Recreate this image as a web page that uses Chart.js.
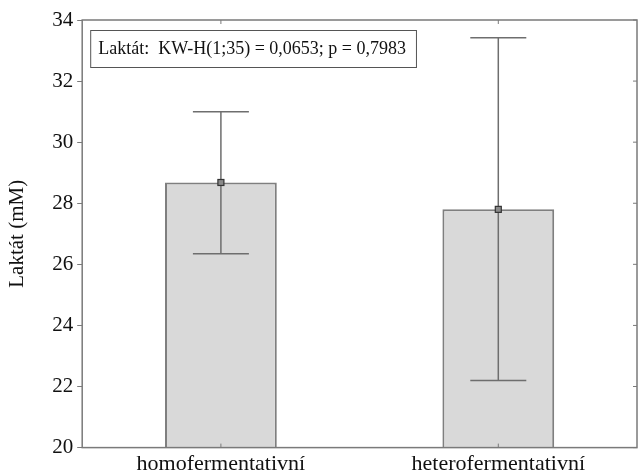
<!DOCTYPE html>
<html><head><meta charset="utf-8">
<script src="https://cdn.jsdelivr.net/npm/chart.js@4"></script>
<style>html,body{margin:0;padding:0;background:#fff}#wrap{width:638px;height:475px}</style>
</head><body><div id="wrap"><canvas id="c"></canvas></div>
<script>
const categories = ["homofermentativní", "heterofermentativní"];
const means = [28.68, 27.8];
const errLow = [26.35, 22.2];
const errHigh = [31.0, 33.42];
const yTicks = [20, 22, 24, 26, 28, 30, 32, 34];
const annotationText = "Laktát:  KW-H(1;35) = 0,0653; p = 0,7983";
const yTitle = "Laktát (mM)";

const SERIF = "'Liberation Serif','DejaVu Serif',serif";

const decor = {
  id: 'decor',
  afterDatasetsDraw(chart) {
    const ctx = chart.ctx, a = chart.chartArea, y = chart.scales.y, x = chart.scales.x;
    ctx.save();
    const meta = chart.getDatasetMeta(0);
    meta.data.forEach((bar, i) => {
      const cx = bar.x;
      const yh = y.getPixelForValue(errHigh[i]);
      const yl = y.getPixelForValue(errLow[i]);
      const ym = y.getPixelForValue(means[i]);
      ctx.strokeStyle = '#6e6e6e';
      ctx.lineWidth = 1.5;
      ctx.beginPath();
      ctx.moveTo(cx, yh); ctx.lineTo(cx, yl);
      ctx.moveTo(cx - 28, yh); ctx.lineTo(cx + 28, yh);
      ctx.moveTo(cx - 28, yl); ctx.lineTo(cx + 28, yl);
      ctx.stroke();
      ctx.fillStyle = '#8a8a8a';
      ctx.fillRect(cx - 3, ym - 3, 6, 6);
      ctx.strokeStyle = '#333';
      ctx.lineWidth = 1.2;
      ctx.strokeRect(cx - 3, ym - 3, 6, 6);
    });
    ctx.strokeStyle = '#7a7a7a';
    ctx.lineWidth = 1.5;
    ctx.strokeRect(a.left, a.top, a.right - a.left, a.bottom - a.top);
    ctx.lineWidth = 1;
    yTicks.forEach(v => {
      const py = y.getPixelForValue(v);
      ctx.beginPath(); ctx.moveTo(a.right, py); ctx.lineTo(a.right - 4, py); ctx.stroke();
    });
    categories.forEach((c, i) => {
      const px = x.getPixelForValue(i);
      ctx.beginPath();
      ctx.moveTo(px, a.top); ctx.lineTo(px, a.top + 4);
      ctx.moveTo(px, a.bottom); ctx.lineTo(px, a.bottom - 4);
      ctx.stroke();
    });
    ctx.font = "18px " + SERIF;
    const tw = ctx.measureText(annotationText).width;
    const bx = a.left + 8, by = a.top + 10, bw = tw + 18, bh = 37;
    ctx.fillStyle = '#fff';
    ctx.fillRect(bx, by, bw, bh);
    ctx.strokeStyle = '#555';
    ctx.lineWidth = 1;
    ctx.strokeRect(bx + 0.5, by + 0.5, bw, bh);
    ctx.fillStyle = '#111';
    ctx.textBaseline = 'middle';
    ctx.fillText(annotationText, bx + 8, by + bh / 2 + 1);
    ctx.restore();
  }
};

new Chart(document.getElementById('c'), {
  type: 'bar',
  data: {
    labels: categories,
    datasets: [{
      data: means,
      backgroundColor: '#d9d9d9',
      borderColor: '#7f7f7f',
      borderWidth: 2,
      borderSkipped: false,
      barPercentage: 0.403,
      categoryPercentage: 1.0
    }]
  },
  options: {
    responsive: true,
    maintainAspectRatio: false,
    animation: false,
    layout: { padding: { top: 20, right: 1, bottom: -5, left: 5 } },
    plugins: { legend: { display: false }, tooltip: { enabled: false } },
    scales: {
      x: {
        grid: { display: false, drawTicks: false },
        border: { display: false },
        ticks: { color: '#111', font: { family: SERIF, size: 22 }, padding: 3 }
      },
      y: {
        min: 20, max: 34,
        afterBuildTicks(s) { s.ticks = yTicks.map(v => ({ value: v })); },
        grid: { drawOnChartArea: false, tickLength: 5, color: '#7a7a7a' },
        border: { display: false },
        ticks: { color: '#111', font: { family: SERIF, size: 21 }, padding: 4 },
        title: { display: true, text: yTitle, color: '#111', font: { family: SERIF, size: 21 }, padding: { top: 0, bottom: 18 } }
      }
    }
  },
  plugins: [decor]
});
</script></body></html>
